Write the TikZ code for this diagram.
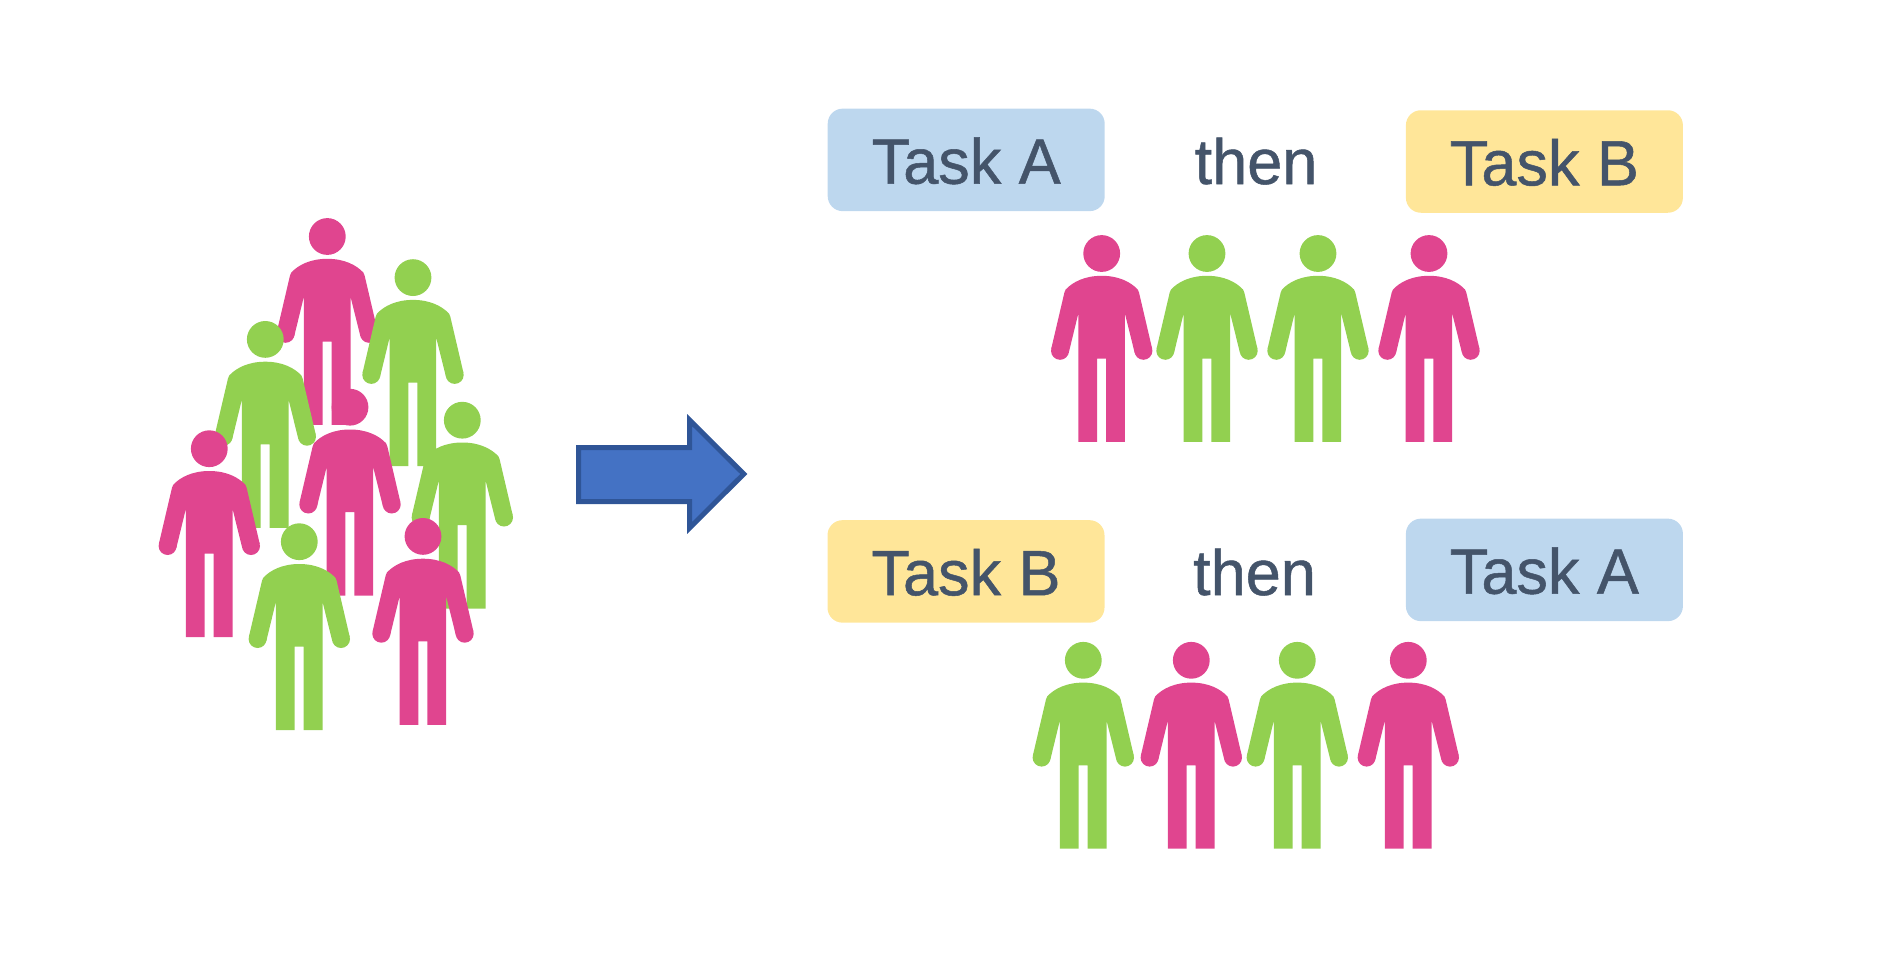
\documentclass[tikz,border=0pt]{standalone}
\usepackage{fontspec}
\setmainfont[FakeStretch=0.985,FakeBold=0.8]{Liberation Sans}
\definecolor{personpink}{HTML}{E0458F}
\definecolor{persongreen}{HTML}{92D050}
\definecolor{taskblue}{HTML}{BDD7EE}
\definecolor{taskyellow}{HTML}{FFE699}
\definecolor{slatetext}{HTML}{44546A}
\definecolor{arrowfill}{HTML}{4472C4}
\definecolor{arrowline}{HTML}{2F5597}
\tikzset{
  person/.pic={
    \fill[pic actions] (0,0) circle[radius=18.4pt];
    \fill[pic actions] (-37.3,39) .. controls (-37,38) and (-36.6,37) .. (-36,36)
      .. controls (-29,28.5) and (-17,22.3) .. (0,22.3)
      .. controls (17,22.3) and (29,28.5) .. (36,36)
      .. controls (36.6,37) and (37,38) .. (37.3,39)
      -- (50.45,95.2) -- (33,99.4) -- (23.2,60) -- (23.2,188.4) -- (4.4,188.4) -- (4.4,105)
      -- (-4.7,105) -- (-4.7,188.4) -- (-23.4,188.4) -- (-23.4,60) -- (-33,99.4) -- (-50.45,95.2) -- cycle;
    \fill[pic actions] (-41.7,97.3) circle[radius=9pt];
    \fill[pic actions] (41.7,97.3) circle[radius=9pt];
  },
  pinkone/.style={fill=personpink},
  greenone/.style={fill=persongreen},
  taskbox/.style={rounded corners=15pt, inner sep=0pt, text=slatetext,
    minimum width=277pt, minimum height=102.5pt, text height=47.6pt, text depth=0pt,
    font=\fontsize{64}{70}\selectfont},
  thenword/.style={inner sep=0pt, anchor=base, text=slatetext, font=\fontsize{64}{70}\selectfont},
  bigarrow/.style={fill=arrowfill, draw=arrowline, line width=5pt, miter limit=10}
}
\begin{document}
\begin{tikzpicture}[x=1pt,y=-1pt]
\useasboundingbox (0,0) rectangle (1900,961);
% crowd
\pic (c1) [pinkone] at (327.3,236.5) {person};
\pic (c2) [greenone] at (413,277.6) {person};
\pic (c3) [greenone] at (265.3,339.4) {person};
\pic (c4) [pinkone] at (350,407.2) {person};
\pic (c5) [greenone] at (462.3,420.2) {person};
\pic (c6) [pinkone] at (209.3,448.7) {person};
\pic (c7) [greenone] at (299.3,541.7) {person};
\pic (c8) [pinkone] at (423,536.4) {person};
% arrow
\draw[bigarrow] (578.5,447.5) -- (689.7,447.5) -- (689.7,420.2) -- (743.8,474) -- (689.7,527.8) -- (689.7,501.5) -- (578.5,501.5) -- cycle;
% top row
\node[taskbox, fill=taskblue] (taskAtop) at (966.2,159.9) {Task A};
\node[thenword] (thentop) at (1256,184) {then};
\node[taskbox, fill=taskyellow] (taskBtop) at (1544.4,161.5) {Task B};
\pic (t1) [pinkone] at (1101.7,253.5) {person};
\pic (t2) [greenone] at (1207,253.5) {person};
\pic (t3) [greenone] at (1318,253.5) {person};
\pic (t4) [pinkone] at (1429,253.5) {person};
% bottom row
\node[taskbox, fill=taskyellow] (taskBbot) at (966,571.4) {Task B};
\node[thenword] (thenbot) at (1254.5,595) {then};
\node[taskbox, fill=taskblue] (taskAbot) at (1544.4,569.9) {Task A};
\pic (b1) [greenone] at (1083.3,660.3) {person};
\pic (b2) [pinkone] at (1191.3,660.3) {person};
\pic (b3) [greenone] at (1297.3,660.3) {person};
\pic (b4) [pinkone] at (1408.3,660.3) {person};
\end{tikzpicture}
\end{document}
